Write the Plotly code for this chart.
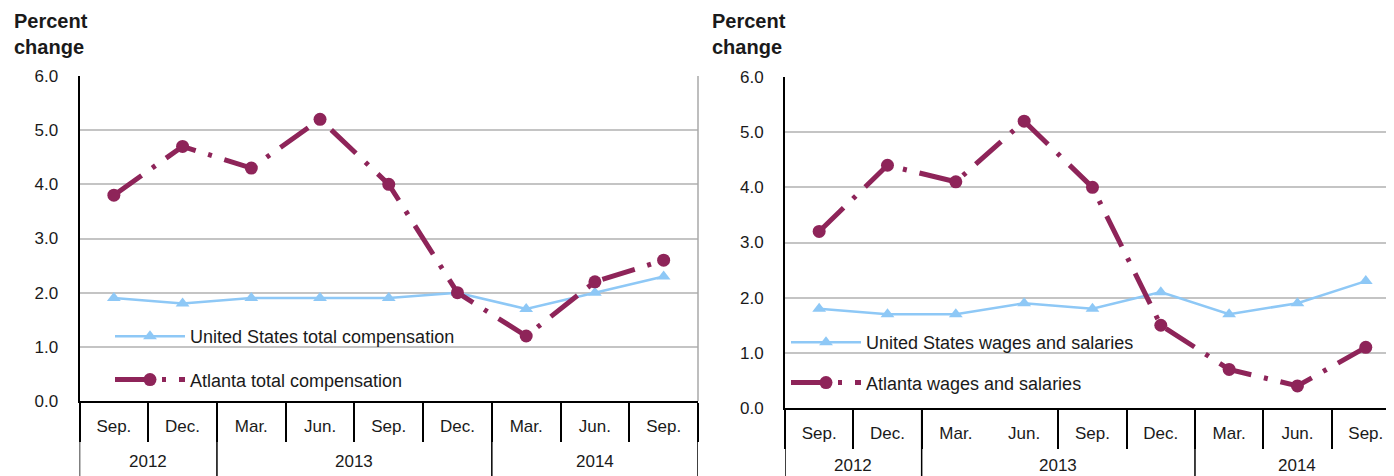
import plotly.graph_objects as go

months = ["Sep.", "Dec.", "Mar.", "Jun.", "Sep.", "Dec.", "Mar.", "Jun.", "Sep."]
years = ["2012", "2012", "2013", "2013", "2013", "2013", "2014", "2014", "2014"]

us_total = [1.9, 1.8, 1.9, 1.9, 1.9, 2.0, 1.7, 2.0, 2.3]
atl_total = [3.8, 4.7, 4.3, 5.2, 4.0, 2.0, 1.2, 2.2, 2.6]
us_wages = [1.8, 1.7, 1.7, 1.9, 1.8, 2.1, 1.7, 1.9, 2.3]
atl_wages = [3.2, 4.4, 4.1, 5.2, 4.0, 1.5, 0.7, 0.4, 1.1]

y_ticks = [0, 1, 2, 3, 4, 5, 6]

BLUE = "#8ec8f6"
MAROON = "#8e2459"
TXT = "#1a1a1a"
FONT = "Liberation Sans"

idx = list(range(len(months)))
bounds = [i - 0.5 for i in idx] + [idx[-1] + 0.5]
year_bounds = [bounds[0]] + [i - 0.5 for i in idx[1:] if years[i] != years[i - 1]] + [bounds[-1]]
year_names = []
year_centers = []
for y in dict.fromkeys(years):
    members = [i for i in idx if years[i] == y]
    year_names.append(y)
    year_centers.append(sum(members) / len(members))

fig = go.Figure()

def add_pair(us, atl, us_name, atl_name, xa, ya, leg, g):
    fig.add_trace(go.Scatter(
        x=idx, y=us, name=us_name, mode="lines+markers", xaxis=xa, yaxis=ya, legend=leg,
        line=dict(color=BLUE, width=2.5),
        marker=dict(symbol="triangle-up", size=12, color=BLUE),
        legendgroup=g + "1",
    ))
    fig.add_trace(go.Scatter(
        x=idx, y=atl, name=atl_name, mode="lines+markers", xaxis=xa, yaxis=ya, legend=leg,
        line=dict(color=MAROON, width=5, dash="34px,13px,4px,13px"),
        marker=dict(symbol="circle", size=13, color=MAROON),
        legendgroup=g + "2",
    ))

add_pair(us_total, atl_total, "United States total compensation", "Atlanta total compensation",
         "x", "y", "legend", "a")
add_pair(us_wages, atl_wages, "United States wages and salaries", "Atlanta wages and salaries",
         "x2", "y2", "legend2", "b")

W, H = 1394, 476
OFF = 8  # page offset of the figure inside the browser window

def px_x(v):
    return (v - OFF) / W

def px_y(v):
    return 1 - (v - OFF) / H

def xaxis_cfg(domain, rng, anchor, minor_vals):
    return dict(
        domain=domain, range=rng, anchor=anchor, automargin=False,
        tickvals=idx, ticktext=months, ticks="", ticklabelstandoff=9,
        minor=dict(tickvals=minor_vals, ticks="outside", ticklen=39,
                   tickcolor="black", tickwidth=1.5, showgrid=False),
        showline=True, linecolor="black", linewidth=1.5,
        tickfont=dict(family=FONT, size=17, color=TXT),
        showgrid=False, zeroline=False, fixedrange=True,
    )

def yaxis_cfg(domain, anchor):
    return dict(
        domain=domain, anchor=anchor, range=[0, 6], tickvals=y_ticks, tickformat=".1f",
        automargin=False,
        showgrid=True, gridcolor="#c4c4c4", gridwidth=1.5,
        showline=True, linecolor="black", linewidth=1.8,
        zeroline=False, ticks="", ticklabelstandoff=16,
        tickfont=dict(family=FONT, size=17, color=TXT), fixedrange=True,
    )

L_top, L_bot = 76, 401
R_top, R_bot = 77, 408

right_minor = [b for b in bounds if b != 2.5]

fig.update_layout(
    width=W, height=H,
    margin=dict(l=0, r=0, t=0, b=0, autoexpand=False),
    paper_bgcolor="white", plot_bgcolor="white",
    xaxis=xaxis_cfg([px_x(79.5), px_x(698)], [bounds[0], bounds[-1]], "y", bounds),
    yaxis=yaxis_cfg([px_y(L_bot), px_y(L_top)], "x"),
    xaxis2=xaxis_cfg([px_x(785), 1.0], [bounds[0], bounds[-1] + 0.03], "y2", right_minor),
    yaxis2=yaxis_cfg([px_y(R_bot), px_y(R_top)], "x2"),
    legend=dict(
        x=px_x(110), y=px_y(318), xanchor="left", yanchor="top",
        bgcolor="rgba(0,0,0,0)", font=dict(family=FONT, size=18, color=TXT),
        itemwidth=70, tracegroupgap=17, traceorder="grouped",
    ),
    legend2=dict(
        x=px_x(786), y=px_y(324), xanchor="left", yanchor="top",
        bgcolor="rgba(0,0,0,0)", font=dict(family=FONT, size=18, color=TXT),
        itemwidth=70, tracegroupgap=14, traceorder="grouped",
    ),
    showlegend=True,
)

fig.add_shape(type="line", xref="x domain", yref="y domain", x0=1, x1=1, y0=0, y1=1,
              line=dict(color="#a8a8a8", width=1.5))

for xa, ya, top, bot, label_off in (("x", "y", L_top, L_bot, 61), ("x2", "y2", R_top, R_bot, 57)):
    dom_px = bot - top
    for b in year_bounds:
        fig.add_shape(type="line", xref=xa, yref=ya + " domain", x0=b, x1=b,
                      y0=0, y1=-90 / dom_px, line=dict(color="black", width=1.5))
    for name, c in zip(year_names, year_centers):
        fig.add_annotation(text=name, xref=xa, yref=ya + " domain", x=c, y=-label_off / dom_px,
                           yanchor="middle", showarrow=False,
                           font=dict(family=FONT, size=17, color=TXT))

for xp in (12, 710):
    fig.add_annotation(
        text="<b>Percent<br>change</b>", xref="paper", yref="paper",
        x=px_x(xp), y=px_y(34), xanchor="left", yanchor="middle", align="left",
        showarrow=False, font=dict(family=FONT, size=20, color=TXT),
    )

fig.write_html("out.html")
